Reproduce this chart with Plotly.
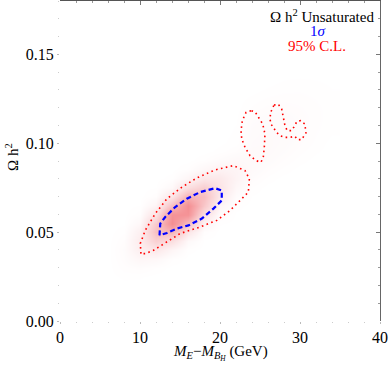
import plotly.graph_objects as go

# ---- density grid ----
grid_x = [6, 8, 10, 12, 14, 16, 18, 20, 22, 24, 26, 28, 30, 32, 34]
grid_y = [0.020, 0.025, 0.030, 0.035, 0.040, 0.045, 0.050, 0.055, 0.060, 0.065,
          0.070, 0.075, 0.080, 0.085, 0.090, 0.095, 0.100, 0.105, 0.110, 0.115,
          0.120, 0.125, 0.130, 0.135, 0.140]
density = [
    [0, 0,     0,     0,     0,     0,     0,     0,     0,     0,     0,     0,     0,     0,     0],
    [0, 0.006, 0.005, 0,     0,     0,     0,     0,     0,     0,     0,     0,     0,     0,     0],
    [0, 0.016, 0.023, 0.011, 0,     0,     0,     0,     0,     0,     0,     0,     0,     0,     0],
    [0, 0.025, 0.067, 0.056, 0.013, 0,     0,     0,     0,     0,     0,     0,     0,     0,     0],
    [0, 0.029, 0.125, 0.18,  0.073, 0.008, 0,     0,     0,     0,     0,     0,     0,     0,     0],
    [0, 0.02,  0.15,  0.37,  0.26,  0.05,  0.002, 0,     0,     0,     0,     0,     0,     0,     0],
    [0, 0.009, 0.115, 0.50,  0.60,  0.20,  0.018, 0,     0,     0,     0,     0,     0,     0,     0],
    [0, 0.002, 0.056, 0.42,  0.89,  0.51,  0.085, 0.005, 0,     0,     0,     0,     0,     0,     0],
    [0, 0,     0.018, 0.23,  0.845, 0.845, 0.24,  0.025, 0.002, 0,     0,     0,     0,     0,     0],
    [0, 0,     0.004, 0.081, 0.51,  0.89,  0.44,  0.077, 0.008, 0,     0,     0,     0,     0,     0],
    [0, 0,     0,     0.018, 0.20,  0.60,  0.52,  0.16,  0.027, 0.003, 0,     0,     0,     0,     0],
    [0, 0,     0,     0.003, 0.05,  0.26,  0.39,  0.21,  0.06,  0.01,  0,     0,     0,     0,     0],
    [0, 0,     0,     0,     0.008, 0.073, 0.19,  0.176, 0.088, 0.025, 0.008, 0,     0,     0,     0],
    [0, 0,     0,     0,     0,     0.013, 0.058, 0.094, 0.082, 0.04,  0.02,  0.008, 0,     0,     0],
    [0, 0,     0,     0,     0,     0,     0.011, 0.032, 0.049, 0.045, 0.032, 0.018, 0.007, 0,     0],
    [0, 0,     0,     0,     0,     0,     0,     0.007, 0.02,  0.04,  0.038, 0.027, 0.014, 0.005, 0],
    [0, 0,     0,     0,     0,     0,     0,     0.002, 0.008, 0.035, 0.04,  0.032, 0.02,  0.009, 0],
    [0, 0,     0,     0,     0,     0,     0,     0,     0.006, 0.032, 0.038, 0.034, 0.025, 0.012, 0.004],
    [0, 0,     0,     0,     0,     0,     0,     0,     0.004, 0.028, 0.035, 0.033, 0.026, 0.014, 0.006],
    [0, 0,     0,     0,     0,     0,     0,     0,     0.002, 0.022, 0.03,  0.03,  0.024, 0.015, 0.007],
    [0, 0,     0,     0,     0,     0,     0,     0,     0,     0.013, 0.022, 0.024, 0.02,  0.014, 0.007],
    [0, 0,     0,     0,     0,     0,     0,     0,     0,     0.006, 0.013, 0.016, 0.015, 0.011, 0.005],
    [0, 0,     0,     0,     0,     0,     0,     0,     0,     0,     0.005, 0.009, 0.01,  0.008, 0.004],
    [0, 0,     0,     0,     0,     0,     0,     0,     0,     0,     0,     0.004, 0.005, 0.004, 0.002],
    [0, 0,     0,     0,     0,     0,     0,     0,     0,     0,     0,     0,     0,     0,     0],
]

# ---- 1 sigma contour ----
sigma1_x = [12.44, 12.53, 13.15, 14.40, 15.86, 17.52, 19.39, 20.22, 20.22, 19.18, 17.73, 16.06, 14.61, 13.37, 12.44]
sigma1_y = [0.0482, 0.0548, 0.0585, 0.0641, 0.0688, 0.0725, 0.0747, 0.0734, 0.0678, 0.0632, 0.0576, 0.0538, 0.0520, 0.0495, 0.0482]

# ---- 95% C.L. contours ----
cl95_main_x = [10.12, 10.04, 10.66, 11.91, 13.37, 15.24, 17.11, 19.39, 21.67, 23.13, 23.67, 23.54, 22.51, 21.26, 19.60, 17.52, 15.02, 13.37, 11.70, 10.66, 10.12]
cl95_main_y = [0.0379, 0.0436, 0.0510, 0.0604, 0.0688, 0.0753, 0.0805, 0.0850, 0.0874, 0.0846, 0.0800, 0.0725, 0.0678, 0.0622, 0.0566, 0.0529, 0.0492, 0.0444, 0.0398, 0.0379, 0.0379]

cl95_ell_x = [23.88, 23.25, 22.79, 22.63, 22.72, 23.13, 23.75, 24.50, 25.12, 25.41, 25.54, 25.62, 25.34, 24.79, 24.38, 23.88]
cl95_ell_y = [0.1183, 0.1173, 0.1127, 0.1071, 0.1024, 0.0977, 0.0930, 0.0902, 0.0893, 0.0921, 0.0977, 0.1052, 0.1108, 0.1151, 0.1177, 0.1183]

cl95_sq_x = [26.75, 27.28, 27.71, 27.91, 28.12, 28.40, 28.95, 29.36, 29.58, 30.07, 30.61, 30.74, 30.20, 29.70, 29.36, 28.74, 28.12, 27.49, 27.08, 26.66, 26.37, 26.25, 26.33, 26.75]
cl95_sq_y = [0.1215, 0.1220, 0.1192, 0.1145, 0.1099, 0.1071, 0.1071, 0.1099, 0.1121, 0.1127, 0.1108, 0.1058, 0.1020, 0.1020, 0.1039, 0.1033, 0.1033, 0.1043, 0.1061, 0.1089, 0.1108, 0.1136, 0.1173, 0.1215]

x_ticks = [0, 10, 20, 30, 40]
y_ticks = [0.00, 0.05, 0.10, 0.15]
y_tick_labels = ["0.00", "0.05", "0.10", "0.15"]

FONT = "Liberation Serif"

L, R, T, B = 60, 10, 1, 46
PW, PH = 390 - L - R, 367 - T - B


def px(xp):
    return (xp - L) / PW


def py(yp):
    return (367 - B - yp) / PH


fig = go.Figure()
fig.add_trace(go.Heatmap(
    x=grid_x, y=grid_y, z=density, zsmooth="best", zmin=0, zmax=1,
    colorscale=[[0, "rgb(255,255,255)"], [0.1, "rgb(253,242,243)"], [0.4, "rgb(249,205,207)"],
                [0.7, "rgb(246,165,168)"], [1, "rgb(243,128,132)"]],
    showscale=False, hoverinfo="skip"))

dot = dict(color="rgb(255,0,0)", width=1.6, dash="1.6px,3.4px")
for xs, ys in [(cl95_main_x, cl95_main_y), (cl95_ell_x, cl95_ell_y), (cl95_sq_x, cl95_sq_y)]:
    fig.add_trace(go.Scatter(x=xs, y=ys, mode="lines", line=dot, showlegend=False, hoverinfo="skip"))

fig.add_trace(go.Scatter(x=sigma1_x, y=sigma1_y, mode="lines",
                         line=dict(color="rgb(0,0,255)", width=2.2, dash="5px,3px"),
                         showlegend=False, hoverinfo="skip"))

# invisible trace for frame axes (top / right)
fig.add_trace(go.Scatter(x=[0], y=[0], xaxis="x2", yaxis="y2", mode="markers",
                         marker=dict(opacity=0), showlegend=False, hoverinfo="skip"))

fig.update_layout(
    width=390, height=367,
    margin=dict(l=L, r=R, t=T, b=B, autoexpand=False),
    paper_bgcolor="white", plot_bgcolor="white",
    font=dict(family=FONT, size=15, color="black"),
    showlegend=False,
    xaxis=dict(range=[0, 40], tickvals=x_ticks, showgrid=False, zeroline=False, automargin=False,
               showline=False, ticks="outside", ticklen=2, tickcolor="#bbbbbb",
               minor=dict(dtick=2, ticks="outside", ticklen=1, tickcolor="#cccccc"),
               tickfont=dict(family=FONT, size=16)),
    yaxis=dict(range=[0, 0.18], tickvals=y_ticks, ticktext=y_tick_labels, automargin=False,
               showgrid=False, zeroline=False, showline=False,
               ticks="outside", ticklen=2, tickcolor="#bbbbbb",
               minor=dict(dtick=0.01, ticks="outside", ticklen=1, tickcolor="#cccccc"),
               tickfont=dict(family=FONT, size=16)),
    xaxis2=dict(range=[0, 40], overlaying="x", side="top", showgrid=False, zeroline=False,
                automargin=False,
                showline=True, linecolor="#555555", linewidth=1, showticklabels=False,
                tickvals=x_ticks, ticks="inside", ticklen=4, tickcolor="#777777",
                minor=dict(dtick=2, ticks="inside", ticklen=2, tickcolor="#999999")),
    yaxis2=dict(range=[0, 0.18], overlaying="y", side="right", showgrid=False, zeroline=False,
                automargin=False,
                showline=True, linecolor="#666666", linewidth=1, showticklabels=False,
                tickvals=y_ticks, ticks="inside", ticklen=4, tickcolor="#777777",
                minor=dict(dtick=0.01, ticks="inside", ticklen=2, tickcolor="#999999")),
    annotations=[
        dict(text="<i>M</i><sub><i>E</i></sub>\u2212<i>M</i><sub><i>B</i><sub><i>H</i></sub></sub> (GeV)",
             xref="paper", yref="paper", x=px(220), y=py(353),
             xanchor="center", yanchor="middle", showarrow=False,
             font=dict(family=FONT, size=15, color="black")),
        dict(text="\u03a9 h<sup>2</sup>", textangle=-90,
             xref="paper", yref="paper", x=px(12), y=py(157),
             xanchor="center", yanchor="middle", showarrow=False,
             font=dict(family=FONT, size=15, color="black")),
        dict(text="\u03a9 h<sup>2</sup> Unsaturated",
             xref="paper", yref="paper", x=px(376), y=py(16),
             xanchor="right", yanchor="middle", showarrow=False,
             font=dict(family=FONT, size=15, color="black")),
        dict(text="1<i>\u03c3</i>",
             xref="paper", yref="paper", x=px(318), y=py(31),
             xanchor="center", yanchor="middle", showarrow=False,
             font=dict(family=FONT, size=15, color="rgb(0,0,255)")),
        dict(text="95% C.L.",
             xref="paper", yref="paper", x=px(317), y=py(46),
             xanchor="center", yanchor="middle", showarrow=False,
             font=dict(family=FONT, size=15, color="rgb(255,0,0)")),
    ],
)

fig.write_html("out.html", config={"displayModeBar": False},
               post_script="document.body.style.margin='0';")
